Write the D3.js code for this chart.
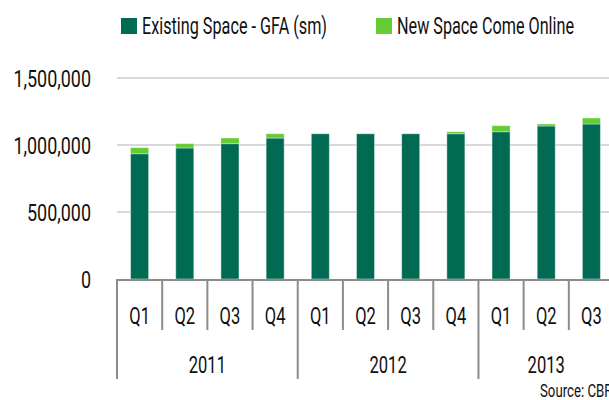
<!DOCTYPE html>
<html lang="en">
<head>
<meta charset="utf-8">
<title>Existing and New Space</title>
<script src="https://cdnjs.cloudflare.com/ajax/libs/d3/7.8.5/d3.min.js"></script>
<style>
body { margin: 0; background: #fff; overflow: hidden; }
svg { display: block; font-family: Roboto, "DejaVu Sans", sans-serif; }
.grid line { stroke: #d9d9d9; stroke-width: 2; }
.ylab { font-size: 23px; fill: #111; text-anchor: end; }
.xlab { font-size: 23px; fill: #111; text-anchor: middle; }
.sep { stroke: #8c8c8c; stroke-width: 2; }
.legend-text { font-size: 23px; fill: #111; }
.existing { fill: #006a53; stroke: #ffffff; stroke-opacity: 0.45; stroke-width: 1; }
.newspace { fill: #66cc33; stroke: #ffffff; stroke-opacity: 0.3; stroke-width: 1; }
</style>
</head>
<body>
<div id="chart"></div>
<script>

const w = 609;
const h = 400;

// Data (square metres)
const quarters = ["Q1", "Q2", "Q3", "Q4", "Q1", "Q2", "Q3", "Q4", "Q1", "Q2", "Q3"];
const years = ["2011", "2011", "2011", "2011", "2012", "2012", "2012", "2012", "2013", "2013", "2013"];
const existing = [935000, 978000, 1010000, 1052000, 1084000, 1084000, 1084000, 1084000, 1099000, 1142000, 1157000];
const newSpace = [45000, 32000, 42000, 32000, 0, 0, 0, 15000, 45000, 15000, 44000];
const yTicks = [0, 500000, 1000000, 1500000];
const seriesNames = ["Existing Space - GFA (sm)", "New Space Come Online"];

const data = quarters.map((q, i) => ({
  key: years[i] + "-" + q,
  quarter: q,
  year: years[i],
  existing: existing[i],
  newSpace: newSpace[i]
}));

const plotLeft = 117, plotRight = 614, plotTop = 78, plotBottom = 279;

// the original font is a narrow one; squeeze the glyphs horizontally
const squeezeY = 0.78, squeezeX = 0.72;

const x = d3.scaleBand()
  .domain(data.map(d => d.key))
  .range([plotLeft, plotRight])
  .padding(0);

const y = d3.scaleLinear()
  .domain([0, 1500000])
  .range([plotBottom, plotTop]);

const barW = x.bandwidth() * 0.4;

const svg = d3.select("#chart")
  .append("svg")
  .attr("width", w)
  .attr("height", h);

// gridlines
svg.append("g")
  .attr("class", "grid")
  .selectAll("line")
  .data(yTicks.filter(t => t > 0))
  .join("line")
  .attr("x1", plotLeft)
  .attr("x2", w + 10)
  .attr("y1", d => y(d))
  .attr("y2", d => y(d));

// y labels
svg.append("g")
  .selectAll("text")
  .data(yTicks)
  .join("text")
  .attr("class", "ylab")
  .attr("transform", d => "translate(91," + (y(d) + 9) + ") scale(" + squeezeY + ",1)")
  .text(d => d3.format(",")(d));

// stacked bars
svg.append("g")
  .selectAll("rect")
  .data(data)
  .join("rect")
  .attr("class", "existing")
  .attr("x", d => x(d.key) + (x.bandwidth() - barW) / 2)
  .attr("width", barW)
  .attr("y", d => y(d.existing))
  .attr("height", d => y(0) - y(d.existing));

svg.append("g")
  .selectAll("rect")
  .data(data.filter(d => d.newSpace > 0))
  .join("rect")
  .attr("class", "newspace")
  .attr("x", d => x(d.key) + (x.bandwidth() - barW) / 2)
  .attr("width", barW)
  .attr("y", d => y(d.existing + d.newSpace))
  .attr("height", d => y(d.existing) - y(d.existing + d.newSpace));

// x axis: baseline, quarter separators and year separators
svg.append("line")
  .attr("class", "sep")
  .attr("x1", plotLeft)
  .attr("x2", w + 10)
  .attr("y1", plotBottom + 1)
  .attr("y2", plotBottom + 1);

svg.append("g")
  .selectAll("line")
  .data(data)
  .join("line")
  .attr("class", "sep")
  .attr("x1", d => x(d.key))
  .attr("x2", d => x(d.key))
  .attr("y1", plotBottom)
  .attr("y2", (d, i) => (i === 0 || data[i - 1].year !== d.year) ? 379 : 330);

svg.append("g")
  .selectAll("text")
  .data(data)
  .join("text")
  .attr("class", "xlab")
  .attr("transform", d => "translate(" + (x(d.key) + x.bandwidth() / 2) + ",324) scale(" + squeezeX + ",1)")
  .text(d => d.quarter);

const yearGroups = d3.groups(data, d => d.year);
svg.append("g")
  .selectAll("text")
  .data(yearGroups)
  .join("text")
  .attr("class", "xlab")
  .attr("transform", g => {
    const cx = (x(g[1][0].key) + x(g[1][g[1].length - 1].key) + x.bandwidth()) / 2;
    return "translate(" + cx + ",373) scale(" + squeezeX + ",1)";
  })
  .text(g => g[0]);

// legend
const legendX = [121, 376];
const legendTextW = [185, 177];
const legendColors = ["#006a53", "#66cc33"];
const legend = svg.append("g")
  .selectAll("g")
  .data(seriesNames)
  .join("g")
  .attr("transform", (d, i) => "translate(" + legendX[i] + ",18)");
legend.append("rect")
  .attr("width", 16)
  .attr("height", 16)
  .attr("fill", (d, i) => legendColors[i]);
legend.append("text")
  .attr("class", "legend-text")
  .attr("x", 21)
  .attr("y", 16)
  .attr("textLength", (d, i) => legendTextW[i])
  .attr("lengthAdjust", "spacingAndGlyphs")
  .text(d => d);

// source note
svg.append("text")
  .attr("x", 540)
  .attr("y", 397)
  .style("font-size", "19px")
  .attr("fill", "#111")
  .attr("textLength", 80)
  .attr("lengthAdjust", "spacingAndGlyphs")
  .text("Source: CBRE");

</script>
</body>
</html>
